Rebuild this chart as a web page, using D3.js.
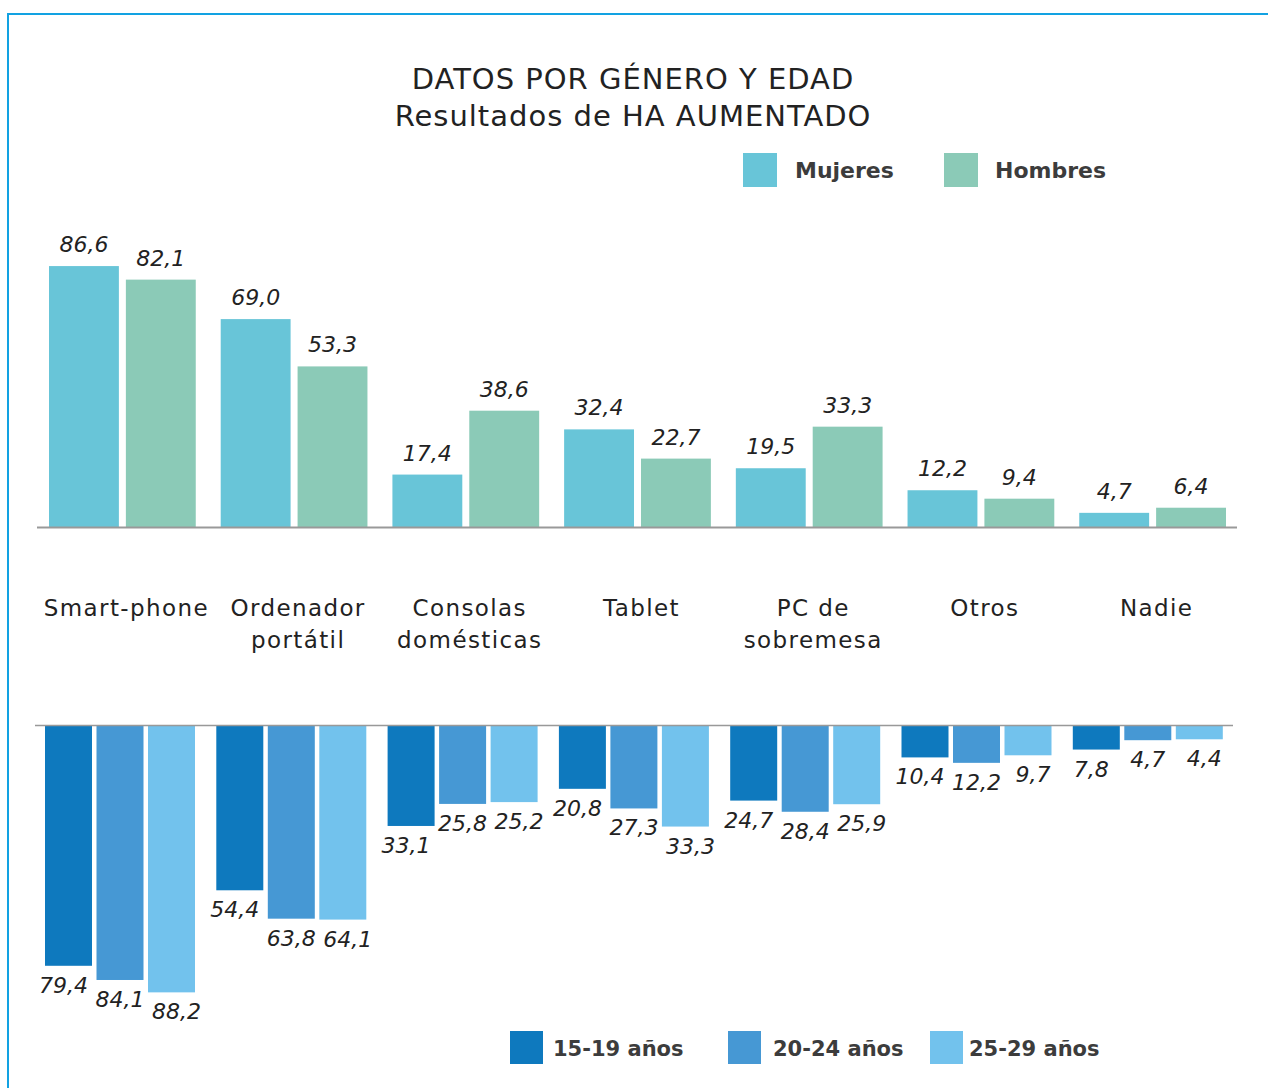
<!DOCTYPE html>
<html><head><meta charset="utf-8">
<script src="https://cdn.jsdelivr.net/npm/d3@7"></script>
<style>body{margin:0;background:#fff}svg{display:block}</style>
</head><body>
<svg id="c" width="1268" height="1088"></svg>
<script>
const categories = [["Smart-phone"],["Ordenador","portátil"],["Consolas","domésticas"],["Tablet"],["PC de","sobremesa"],["Otros"],["Nadie"]];
const genderSeries = ["Mujeres","Hombres"];
const mujeres = [86.6,69.0,17.4,32.4,19.5,12.2,4.7];
const hombres = [82.1,53.3,38.6,22.7,33.3,9.4,6.4];
const ageSeries = ["15-19 años","20-24 años","25-29 años"];
const age1519 = [79.4,54.4,33.1,20.8,24.7,10.4,7.8];
const age2024 = [84.1,63.8,25.8,27.3,28.4,12.2,4.7];
const age2529 = [88.2,64.1,25.2,33.3,25.9,9.7,4.4];
const titleLines = ["DATOS POR GÉNERO Y EDAD","Resultados de HA AUMENTADO"];

const FONT = "'DejaVu Sans', sans-serif";
const genderColors = ["#68c5d8","#8bcab7"];
const ageColors = ["#0e79be","#4698d4","#72c2ed"];
const fmt = v => d3.format(".1f")(v).replace(".", ",");

const svg = d3.select("#c");
// frame
svg.append("path").attr("d","M8,1088 V14 H1268").attr("fill","none").attr("stroke","#12a2e2").attr("stroke-width",2);

// title
svg.append("g").selectAll("text").data(titleLines).join("text")
  .attr("x",633).attr("y",(d,i)=>89+i*37).attr("text-anchor","middle")
  .attr("font-family",FONT).attr("font-size",29).attr("letter-spacing",1).attr("fill","#222").text(d=>d);

const idx = d3.range(categories.length);

// ---- top chart
const yTop = d3.scaleLinear().domain([0,100]).range([527,527-301.3]);
const xTop = d3.scaleBand().domain(idx).range([49,1226]).paddingInner(25/172).paddingOuter(0);
const xTopIn = d3.scaleBand().domain([0,1]).range([0,xTop.bandwidth()]).paddingInner(7/77);
const gData = idx.map(i => [mujeres[i], hombres[i]]);
const gTop = svg.append("g");
const grpT = gTop.selectAll("g").data(gData).join("g").attr("transform",(d,i)=>`translate(${xTop(i)},0)`);
grpT.selectAll("rect").data(d=>d).join("rect")
  .attr("x",(d,j)=>xTopIn(j)).attr("width",xTopIn.bandwidth())
  .attr("y",d=>yTop(d)).attr("height",d=>yTop(0)-yTop(d)).attr("fill",(d,j)=>genderColors[j]);
grpT.selectAll("text").data(d=>d).join("text")
  .attr("x",(d,j)=>xTopIn(j)+xTopIn.bandwidth()/2).attr("y",d=>yTop(d)-14)
  .attr("text-anchor","middle").attr("font-family",FONT).attr("font-style","italic")
  .attr("font-size",22).attr("fill","#222").text(d=>fmt(d));
gTop.append("line").attr("x1",37).attr("x2",1237).attr("y1",yTop(0)+0.5).attr("y2",yTop(0)+0.5).attr("stroke","#999").attr("stroke-width",2);

// ---- bottom chart
const yBot = d3.scaleLinear().domain([0,100]).range([726,726+302]);
const xBot = d3.scaleBand().domain(idx).range([45,1222.8]).paddingInner(21.3/171.3).paddingOuter(0);
const xBotIn = d3.scaleBand().domain([0,1,2]).range([0,xBot.bandwidth()]).paddingInner(4.5/51.5);
const aData = idx.map(i => [age1519[i], age2024[i], age2529[i]]);
const labOff = [-5,0,5];
const gBot = svg.append("g");
const grpB = gBot.selectAll("g").data(aData).join("g").attr("transform",(d,i)=>`translate(${xBot(i)},0)`);
grpB.selectAll("rect").data(d=>d).join("rect")
  .attr("x",(d,j)=>xBotIn(j)).attr("width",xBotIn.bandwidth())
  .attr("y",yBot(0)).attr("height",d=>yBot(d)-yBot(0)).attr("fill",(d,j)=>ageColors[j]);
grpB.selectAll("text").data(d=>d).join("text")
  .attr("x",(d,j)=>xBotIn(j)+xBotIn.bandwidth()/2+labOff[j]).attr("y",d=>yBot(d)+27)
  .attr("text-anchor","middle").attr("font-family",FONT).attr("font-style","italic")
  .attr("font-size",22).attr("fill","#222").text(d=>fmt(d));
gBot.append("line").attr("x1",35).attr("x2",1233).attr("y1",yBot(0)-0.5).attr("y2",yBot(0)-0.5).attr("stroke","#999").attr("stroke-width",1.5);

// category labels
const catG = svg.append("g");
idx.forEach(i=>{
  const cx = xTop(i)+xTop.bandwidth()/2 + 4;
  catG.append("text").attr("x",cx).attr("y",616).attr("text-anchor","middle")
    .attr("font-family",FONT).attr("font-size",23).attr("letter-spacing",1.4).attr("fill","#222")
    .selectAll("tspan").data(categories[i]).join("tspan")
    .attr("x",cx).attr("dy",(d,k)=>k? 32:0).text(d=>d);
});

// legends
const legTop = [{x:743,tx:795},{x:944,tx:995}];
const lt = svg.append("g").selectAll("g").data(genderSeries).join("g");
lt.append("rect").attr("x",(d,i)=>legTop[i].x).attr("y",153).attr("width",34).attr("height",34).attr("fill",(d,i)=>genderColors[i]);
lt.append("text").attr("x",(d,i)=>legTop[i].tx).attr("y",178).attr("font-family",FONT).attr("font-weight","bold")
  .attr("font-size",22).attr("fill","#3c3c3c").text(d=>d);

const legBot = [{x:510,tx:553},{x:728,tx:773},{x:930,tx:969}];
const lb = svg.append("g").selectAll("g").data(ageSeries).join("g");
lb.append("rect").attr("x",(d,i)=>legBot[i].x).attr("y",1031).attr("width",33).attr("height",33).attr("fill",(d,i)=>ageColors[i]);
lb.append("text").attr("x",(d,i)=>legBot[i].tx).attr("y",1056).attr("font-family",FONT).attr("font-weight","bold")
  .attr("font-size",21).attr("fill","#3c3c3c").text(d=>d);
</script>
</body></html>
